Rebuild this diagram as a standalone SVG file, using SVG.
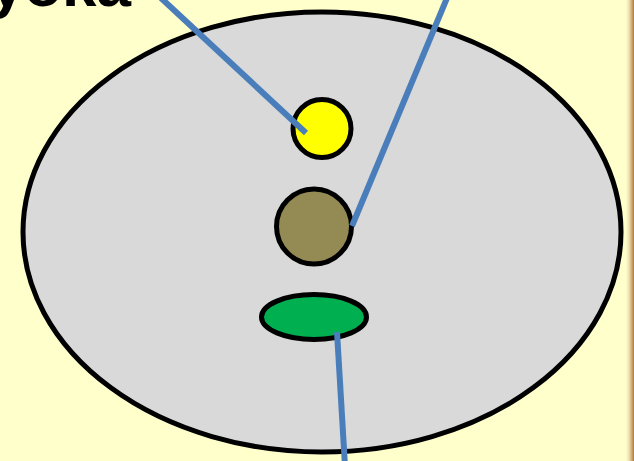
<svg xmlns="http://www.w3.org/2000/svg" width="634" height="461" viewBox="0 0 634 461">
  <defs>
    <linearGradient id="edge" x1="0" y1="0" x2="1" y2="0">
      <stop offset="0" stop-color="#FFFFCC"/>
      <stop offset="0.4" stop-color="#EDDDB0"/>
      <stop offset="0.75" stop-color="#CDA46A"/>
      <stop offset="1" stop-color="#A8793E"/>
    </linearGradient>
    <style>
      .shape { stroke: #000000; stroke-width: 5; }
      .conn { stroke: #4A7EBB; stroke-width: 6; fill: none; stroke-linecap: butt; }
      .title { font-family: "Liberation Sans", Arial, sans-serif; font-weight: bold; font-size: 62px; fill: #000000; }
    </style>
  </defs>
  <rect x="0" y="0" width="634" height="461" fill="#FFFFCC"/>
  <rect x="626" y="0" width="8" height="461" fill="url(#edge)"/>
  <text class="title" x="131" y="6" text-anchor="end">yoka</text>
  <g id="cell">
    <ellipse class="shape" cx="322" cy="232" rx="299" ry="220" fill="#D9D9D9"/>
  </g>
  <g id="yellow-body">
    <circle class="shape" cx="322" cy="128.5" r="29" fill="#FFFF00" stroke-width="4.5"/>
  </g>
  <g id="brown-body">
    <circle class="shape" cx="314" cy="226.5" r="37.5" fill="#948A54"/>
  </g>
  <g id="green-body">
    <ellipse class="shape" cx="314" cy="317" rx="52.5" ry="22.5" fill="#00B050"/>
  </g>
  <g id="connectors">
    <line class="conn" x1="161" y1="-2" x2="306" y2="133"/>
    <line class="conn" x1="447" y1="-2" x2="352" y2="226"/>
    <line class="conn" x1="337" y1="332" x2="345" y2="466"/>
  </g>
</svg>
